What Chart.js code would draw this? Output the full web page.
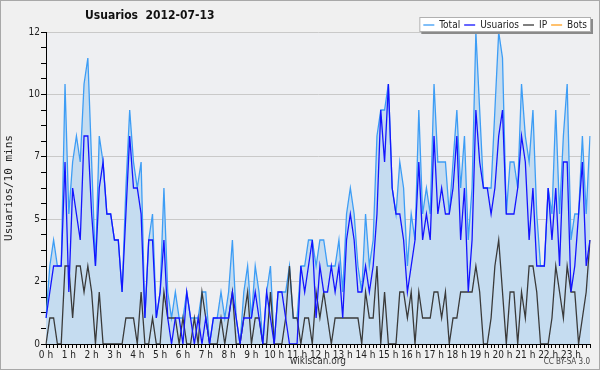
<!DOCTYPE html>
<html lang="es">
<head>
<meta charset="UTF-8">
<title>Usuarios 2012-07-13</title>
<style>
  body { margin: 0; background: #f0f0f0; }
  #wrap { width: 600px; height: 370px; }
</style>
<script src="https://cdn.jsdelivr.net/npm/chart.js"></script>
</head>
<body>
<div id="wrap"><canvas id="usuariosChart"></canvas></div>
<script>
// one value per 10 minutes, 144 slots
const hours = ['0 h','1 h','2 h','3 h','4 h','5 h','6 h','7 h','8 h','9 h','10 h','11 h',
               '12 h','13 h','14 h','15 h','16 h','17 h','18 h','19 h','20 h','21 h','22 h','23 h'];

const total = [
  1,3,4,3,3,10,5,7,8,7,10,11,
  7,3,8,7,5,5,4,4,2,6,9,7,
  6,7,1,4,5,1,2,6,2,1,2,1,
  1,2,1,1,1,2,2,0,1,1,2,1,
  2,4,1,0,2,3,1,3,2,0,2,3,
  0,2,2,2,3,1,1,3,3,4,4,3,
  4,4,3,3,3,4,2,5,6,5,3,2,
  5,3,4,8,9,9,10,6,5,7,6,3,
  5,4,9,5,6,5,10,7,7,7,5,7,
  9,6,8,4,6,12,9,6,6,6,9,12,
  11,5,7,7,6,10,8,7,9,5,3,3,
  6,5,9,5,8,10,4,5,5,8,5,8
];
const usuarios = [
  1,2,3,3,3,7,2,6,5,4,8,8,
  5,3,6,7,5,5,4,4,2,5,8,6,
  6,5,1,4,4,1,2,4,1,0,1,1,
  0,2,1,0,1,0,1,0,1,1,1,1,
  1,2,1,0,1,1,1,2,1,0,2,1,
  0,2,2,1,0,0,0,3,2,3,4,1,
  3,2,2,3,2,3,1,4,5,4,2,2,
  3,2,3,5,9,7,10,6,5,5,4,2,
  3,4,7,4,5,4,8,5,6,5,5,6,
  8,4,6,2,4,9,7,6,6,5,6,8,
  9,5,5,5,6,8,7,4,6,3,3,3,
  6,4,6,3,7,7,2,3,5,7,3,4
];
const ip = [
  0,1,1,0,0,3,3,1,3,3,2,3,
  2,0,2,0,0,0,0,0,0,1,1,1,
  0,2,0,0,1,0,0,2,1,1,1,0,
  1,0,0,1,0,2,1,0,0,0,1,0,
  1,2,0,0,1,2,0,1,1,0,0,2,
  0,0,0,1,3,1,1,0,1,1,0,2,
  1,2,1,0,1,1,1,1,1,1,1,0,
  2,1,1,3,0,2,0,0,0,2,2,1,
  2,0,2,1,1,1,2,2,1,2,0,1,
  1,2,2,2,2,3,2,0,0,1,3,4,
  2,0,2,2,0,2,1,3,3,2,0,0,
  0,1,3,2,1,3,2,2,0,1,2,4
];
const bots = [
  0,0,0,0,0,0,0,0,0,0,0,0, 0,0,0,0,0,0,0,0,0,0,0,0,
  0,0,0,0,0,0,0,0,0,0,0,0, 0,0,0,0,0,0,0,0,0,0,0,0,
  0,0,0,0,0,0,0,0,0,0,0,0, 0,0,0,0,0,0,0,0,0,0,0,0,
  0,0,0,0,0,0,0,0,0,0,0,0, 0,0,0,0,0,0,0,0,0,0,0,0,
  0,0,0,0,0,0,0,0,0,0,0,0, 0,0,0,0,0,0,0,0,0,0,0,0,
  0,0,0,0,0,0,0,0,0,0,0,0, 0,0,0,0,0,0,0,0,0,0,0,0
];

const labels = total.map((_, i) => i % 6 === 0 ? hours[i / 6] : '');

const FONT = "'DejaVu Sans Condensed', 'DejaVu Sans', sans-serif";
Chart.defaults.font.family = FONT;
Chart.defaults.font.size = 10;
Chart.defaults.color = '#222';

// plot background, page border, title, legend box, licence
const decor = {
  id: 'decor',
  beforeDraw(chart) {
    const { ctx, chartArea: a } = chart;
    ctx.save();
    ctx.fillStyle = '#eeeff2';
    ctx.fillRect(a.left, a.top, a.right - a.left, a.bottom - a.top);
    ctx.restore();
  },
  afterDraw(chart) {
    const { ctx, chartArea: a } = chart;
    ctx.save();
    ctx.strokeStyle = '#a8a8a8';
    ctx.lineWidth = 1;
    ctx.strokeRect(0.5, 0.5, chart.width - 1, chart.height - 1);

    ctx.fillStyle = '#111';
    ctx.font = "bold 12px " + FONT;
    ctx.textBaseline = 'middle';
    ctx.textAlign = 'left';
    ctx.fillText('Usuarios  2012-07-13', 85, 16);

    // legend
    ctx.font = "10px " + FONT;
    const items = chart.data.datasets.map(d => d.label);
    const widths = items.map(t => ctx.measureText(t).width);
    const boxW = widths.reduce((s, w) => s + w + 20, 0) + 4;
    const bx = a.right + 1 - boxW, by = 17, bh = 15;
    ctx.fillStyle = '#8a8a8a';
    ctx.fillRect(bx + 2, by + 2, boxW, bh);
    ctx.fillStyle = '#fff';
    ctx.fillRect(bx, by, boxW, bh);
    ctx.strokeStyle = '#b0b0b0';
    ctx.strokeRect(bx + 0.5, by + 0.5, boxW - 1, bh - 1);
    let x = bx + 4;
    const cy = by + bh / 2 + 0.5;
    chart.data.datasets.forEach((d, i) => {
      ctx.strokeStyle = d.borderColor;
      ctx.lineWidth = 1.3;
      ctx.beginPath();
      ctx.moveTo(x, cy);
      ctx.lineTo(x + 11, cy);
      ctx.stroke();
      ctx.fillStyle = '#222';
      ctx.fillText(d.label, x + 16, cy);
      x += widths[i] + 20;
    });

    ctx.font = "8px " + FONT;
    ctx.fillStyle = '#444';
    ctx.textAlign = 'right';
    ctx.fillText('CC BY-SA 3.0', a.right, 362);
    ctx.restore();
  }
};

new Chart(document.getElementById('usuariosChart'), {
  type: 'line',
  data: {
    labels: labels,
    datasets: [
      { label: 'Total', data: total, borderColor: '#3d9df5', backgroundColor: '#c5dcf0',
        fill: 'origin', order: 2 },
      { label: 'Usuarios', data: usuarios, borderColor: '#1414ff', fill: false, order: 0 },
      { label: 'IP', data: ip, borderColor: '#3a3a3a', fill: false, order: 1 },
      { label: 'Bots', data: bots, borderColor: '#ffa01e', fill: false, order: 3 }
    ]
  },
  options: {
    responsive: true,
    maintainAspectRatio: false,
    animation: false,
    elements: {
      line: { borderWidth: 1.3, tension: 0 },
      point: { radius: 0 }
    },
    layout: { padding: { top: 32, right: 10, left: 0, bottom: 0 } },
    plugins: { legend: { display: false }, title: { display: false }, tooltip: { enabled: false } },
    scales: {
      x: {
        z: 1,
        grid: { drawOnChartArea: false, tickLength: 4, tickColor: '#000' },
        border: { color: '#000', width: 1 },
        ticks: { autoSkip: false, maxRotation: 0, padding: 1, color: '#222',
                 callback: (v, i) => labels[i] },
        title: { display: true, text: 'wikiscan.org', color: '#333', font: { size: 10 },
                 padding: { top: 0, bottom: 3 } },
        afterFit: (s) => { s.height = 26; }
      },
      y: {
        min: 0,
        max: 12,
        grid: {
          color: (c) => c.index % 4 === 0 ? '#c9c9c9' : 'rgba(0,0,0,0)',
          tickColor: '#000',
          tickLength: 5
        },
        border: { color: '#000', width: 1 },
        ticks: { stepSize: 0.6, padding: 1, color: '#222',
                 callback: (v, i) => i % 4 === 0 ? Math.round(v) : '' },
        title: { display: true, text: 'Usuarios/10 mins', color: '#222',
                 font: { family: "'DejaVu Sans Mono', monospace", size: 11 },
                 padding: { top: 3, bottom: 0 } },
        afterFit: (s) => { s.width = 46; }
      }
    }
  },
  plugins: [decor]
});
</script>
</body>
</html>
